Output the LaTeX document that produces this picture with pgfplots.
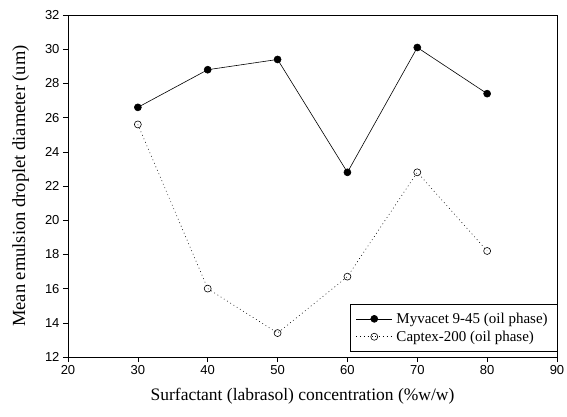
\documentclass[border=0pt]{standalone}
\usepackage{fontspec}
\setmainfont{Liberation Serif}
\newfontfamily\tickfont{Liberation Sans}
\usepackage{pgfplots}
\pgfplotsset{compat=1.18}
\begin{document}
\begin{tikzpicture}
\useasboundingbox (-68pt,-59pt) rectangle (499pt,357pt);
\begin{axis}[
  at={(0,0)}, anchor=south west,
  scale only axis,
  width=489pt, height=342pt,
  xmin=20, xmax=90, ymin=12, ymax=32,
  xtick={20,30,...,90}, ytick={12,14,...,32},
  tick align=outside, major tick length=5pt,
  xtick pos=bottom, ytick pos=left,
  tick style={black, line width=0.6pt},
  axis line style={black, line width=0.6pt},
  /pgf/number format/assume math mode=true,
  ticklabel style={font=\tickfont\fontsize{13}{14}\selectfont},
  xlabel={Surfactant (labrasol) concentration (\%w/w)},
  ylabel={Mean emulsion droplet diameter (um)},
  xlabel style={font=\fontsize{17.5}{19}\selectfont, yshift=-7pt, xshift=-10pt},
  ylabel style={font=\fontsize{18.5}{20}\selectfont, yshift=9pt},
  legend style={at={(1,0)}, anchor=south east, xshift=1pt, yshift=5pt, draw=black, line width=0.6pt,
    font=\fontsize{15}{17}\selectfont, row sep=2pt, inner xsep=6pt, inner ysep=7pt,
    nodes={inner xsep=4pt}},
  legend cell align=left,
  legend image code/.code={\draw[mark repeat=2,mark phase=2,#1] plot coordinates {(0cm,0cm) (0.63cm,0cm) (1.26cm,0cm)};},
]
\addplot[black, line width=0.6pt, mark=*, mark size=3.5pt, mark options={solid, fill=black}]
  coordinates {(30,26.6) (40,28.8) (50,29.4) (60,22.8) (70,30.1) (80,27.4)};
\addlegendentry{Myvacet 9-45 (oil phase)\hspace{12pt}}
\addplot[black, line width=0.6pt, dash pattern=on 0.8pt off 3pt, mark=o, mark size=3.5pt, mark options={solid, fill=white}]
  coordinates {(30,25.6) (40,16.0) (50,13.4) (60,16.7) (70,22.8) (80,18.2)};
\addlegendentry{Captex-200 (oil phase)}
\end{axis}
\end{tikzpicture}
\end{document}
